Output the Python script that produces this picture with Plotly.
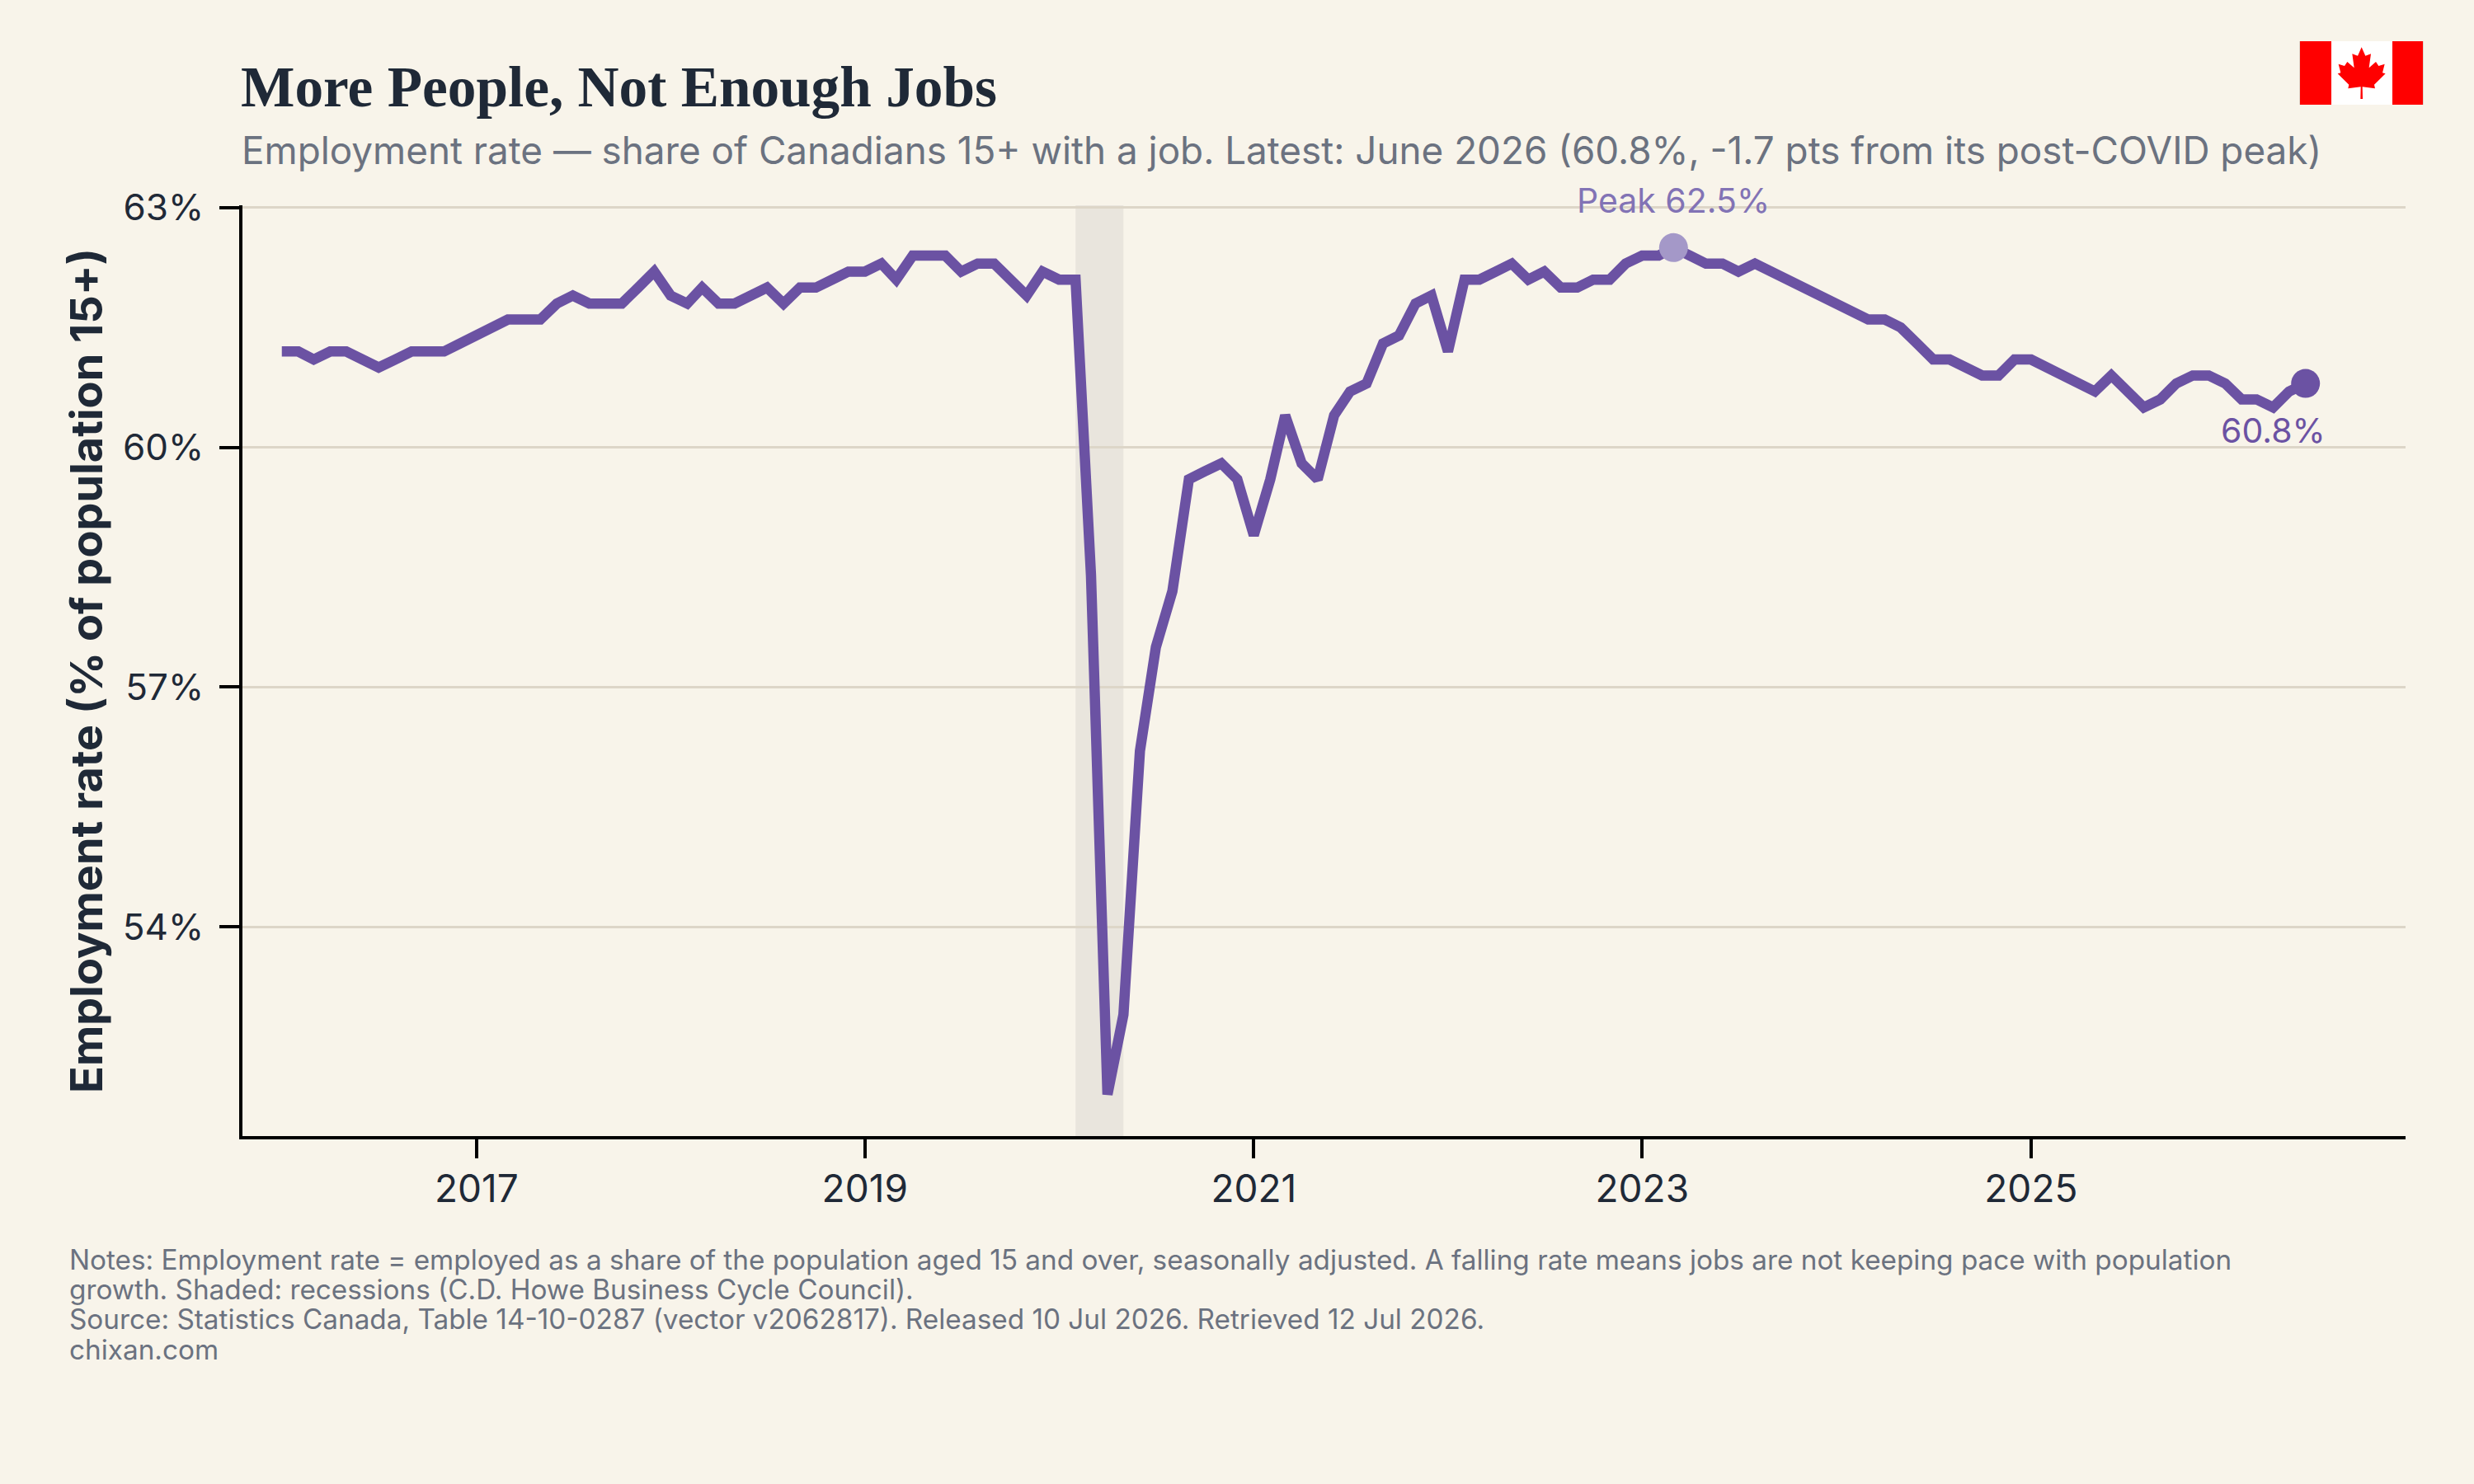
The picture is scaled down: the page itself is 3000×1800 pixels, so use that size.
import pandas as pd
import plotly.graph_objects as go

# Monthly employment rate, January 2016 to June 2026
months = pd.date_range("2016-01-01", periods=126, freq="MS").strftime("%Y-%m-%d").tolist()
employment_rate = [
    61.2, 61.2, 61.1, 61.2, 61.2, 61.1, 61.0, 61.1, 61.2, 61.2, 61.2, 61.3,
    61.4, 61.5, 61.6, 61.6, 61.6, 61.8, 61.9, 61.8, 61.8, 61.8, 62.0, 62.2,
    61.9, 61.8, 62.0, 61.8, 61.8, 61.9, 62.0, 61.8, 62.0, 62.0, 62.1, 62.2,
    62.2, 62.3, 62.1, 62.4, 62.4, 62.4, 62.2, 62.3, 62.3, 62.1, 61.9, 62.2,
    62.1, 62.1, 58.4, 51.9, 52.9, 56.2, 57.5, 58.2, 59.6, 59.7, 59.8, 59.6,
    58.9, 59.6, 60.4, 59.8, 59.6, 60.4, 60.7, 60.8, 61.3, 61.4, 61.8, 61.9,
    61.2, 62.1, 62.1, 62.2, 62.3, 62.1, 62.2, 62.0, 62.0, 62.1, 62.1, 62.3,
    62.4, 62.4, 62.5, 62.4, 62.3, 62.3, 62.2, 62.3, 62.2, 62.1, 62.0, 61.9,
    61.8, 61.7, 61.6, 61.6, 61.5, 61.3, 61.1, 61.1, 61.0, 60.9, 60.9, 61.1,
    61.1, 61.0, 60.9, 60.8, 60.7, 60.9, 60.7, 60.5, 60.6, 60.8, 60.9, 60.9,
    60.8, 60.6, 60.6, 60.5, 60.7, 60.8,
]
recession_start = "2020-02-01"
recession_end = "2020-05-01"
peak_month = "2023-03-01"
peak_rate = 62.5
latest_month = months[-1]
latest_rate = employment_rate[-1]

y_ticks = [54, 57, 60, 63]
y_tick_labels = ["54%", "57%", "60%", "63%"]
x_ticks = ["2017-01-01", "2019-01-01", "2021-01-01", "2023-01-01", "2025-01-01"]
x_tick_labels = ["2017", "2019", "2021", "2023", "2025"]

title_text = "<b>More People, Not Enough Jobs</b>"
subtitle_text = ("Employment rate — share of Canadians 15+ with a job. "
                 "Latest: June 2026 (60.8%, -1.7 pts from its post-COVID peak)")
footer_lines = [
    "Notes: Employment rate = employed as a share of the population aged 15 and over, seasonally adjusted. A falling rate means jobs are not keeping pace with population",
    "growth. Shaded: recessions (C.D. Howe Business Cycle Council).",
    "Source: Statistics Canada, Table 14-10-0287 (vector v2062817). Released 10 Jul 2026. Retrieved 12 Jul 2026.",
    "chixan.com",
]

BG = "#F8F4EA"
INK = "#1F2937"
MUTED = "#6B7280"
LINE = "#6B52A3"
PEAK = "#A498C8"
PEAK_TEXT = "#8273B5"
GRID = "#DDD6C8"
BAND = "rgba(110,100,110,0.10)"
SANS = "Inter"

W, H = 3000, 1800
LEFT, RIGHT, TOP, BOTTOM = 294, 2917, 249, 1378
plot_w, plot_h = RIGHT - LEFT, BOTTOM - TOP


def px(x):
    return (x - LEFT) / plot_w


def py(y):
    return 1 - (y - TOP) / plot_h


fig = go.Figure()
fig.add_trace(go.Scatter(x=months, y=employment_rate, mode="lines",
                         line=dict(color=LINE, width=12.5), hoverinfo="x+y", showlegend=False))
fig.add_trace(go.Scatter(x=[peak_month], y=[peak_rate], mode="markers",
                         marker=dict(color=PEAK, size=35), showlegend=False))
fig.add_trace(go.Scatter(x=[latest_month], y=[latest_rate], mode="markers",
                         marker=dict(color=LINE, size=35), showlegend=False))

# Recession band
fig.add_shape(type="rect", xref="x", yref="paper", x0=recession_start, x1=recession_end,
              y0=0, y1=1, fillcolor=BAND, line_width=0, layer="below")


def flag_rect(x0, x1, color):
    fig.add_shape(type="rect", xref="paper", yref="paper", x0=px(x0), x1=px(x1),
                  y0=py(127), y1=py(50), fillcolor=color, line_width=0, layer="above")


# Flag in the top right corner
flag_rect(2788, 2939, "#DDD8CE")
flag_rect(2789, 2938, "#FF0000")
flag_rect(2827, 2901, "#FFFFFF")
leaf_half = [(0, 112), (14, 143), (34, 136), (27, 187), (52, 165), (62, 180), (84, 173),
             (76, 205), (87, 208), (46, 248), (49, 262), (3, 256), (4, 300)]
leaf = leaf_half + [(-a, b) for a, b in reversed(leaf_half)]
leaf_path = "M" + " L".join(
    f"{px(2700 + (491 + a) / 3):.5f},{py(20 + b / 3):.5f}" for a, b in leaf) + " Z"
fig.add_shape(type="path", xref="paper", yref="paper", path=leaf_path,
              fillcolor="#FF0000", line_width=0, layer="above")


def paper_text(text, x, y, size, color, family=SANS, anchor="left"):
    fig.add_annotation(text=text, xref="paper", yref="paper", x=px(x), y=py(y), showarrow=False,
                       xanchor=anchor, yanchor="middle", align="left",
                       font=dict(family=family, size=size, color=color))


paper_text(subtitle_text, 291, 183, 45.8, MUTED)
for text, y in zip(footer_lines, [1528, 1564, 1600, 1637]):
    paper_text(text, 82, y, 33.3, MUTED)

fig.add_annotation(text=f"Peak {peak_rate}%", x=peak_month, y=peak_rate, xref="x", yref="y",
                   showarrow=False, yshift=57, font=dict(family=SANS, size=41, color=PEAK_TEXT))
fig.add_annotation(text=f"{latest_rate}%", x=latest_month, y=latest_rate, xref="x", yref="y",
                   showarrow=False, xshift=-39, yshift=-57, font=dict(family=SANS, size=41, color=LINE))

fig.update_layout(
    width=W, height=H, autosize=False,
    margin=dict(l=LEFT, r=W - RIGHT, t=TOP, b=H - BOTTOM, pad=0),
    paper_bgcolor=BG, plot_bgcolor=BG,
    font=dict(family=SANS, color=INK),
    showlegend=False,
    title=dict(text=title_text, xref="container", x=292 / W, xanchor="left", yref="container",
               y=1 - 105 / H, yanchor="middle",
               font=dict(family="Liberation Serif", size=69.3, color=INK)),
    xaxis=dict(type="date", range=["2015-10-19", "2026-12-06"], tickvals=x_ticks,
               ticktext=x_tick_labels, showgrid=False, showline=True, linecolor="#000000",
               linewidth=4, ticks="outside", ticklen=23, tickwidth=3.5, tickcolor="#000000",
               ticklabelstandoff=-2, tickfont=dict(family=SANS, size=46, color=INK)),
    yaxis=dict(range=[51.38, 63.03], tickvals=y_ticks, ticktext=y_tick_labels, showgrid=True,
               gridcolor=GRID, gridwidth=2.5, zeroline=False, showline=True, linecolor="#000000",
               linewidth=4, ticks="outside", ticklen=24, tickwidth=3.5, tickcolor="#000000",
               ticklabelstandoff=10, tickfont=dict(family=SANS, size=44, color=INK),
               title=dict(text="Employment rate (% of population 15+)", standoff=8,
                          font=dict(family=SANS, size=54, color=INK, weight=700))),
)

fig.write_html("out.html")
